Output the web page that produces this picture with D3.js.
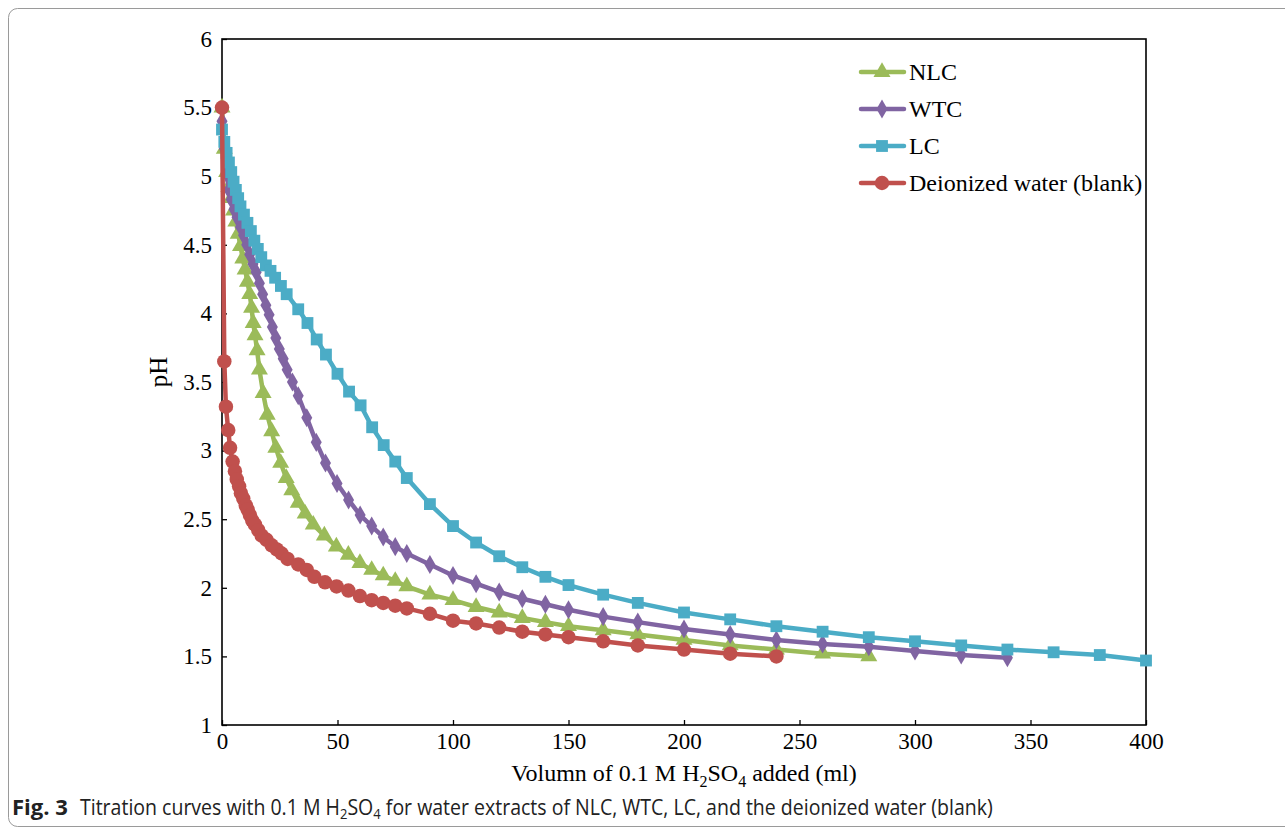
<!DOCTYPE html>
<html>
<head>
<meta charset="utf-8">
<script src="https://cdn.jsdelivr.net/npm/d3@7"></script>
<style>
  html, body { margin: 0; padding: 0; background: #fff; }
  svg { display: block; }
</style>
</head>
<body>
<svg id="chart" width="1285" height="829"></svg>
<script>
// Titration data: volume of 0.1 M H2SO4 added (ml) and pH reading
const nlcVol = [0, 1, 2, 3, 4, 5, 6, 7, 8, 9, 10, 11, 12, 12.8, 13.5, 14.3, 15.2, 16.2, 17.8, 19.6, 21.5, 23.3, 25.4, 27.8, 30.2, 33, 36, 39.5, 44.3, 49.5, 54.7, 59.7, 64.8, 69.8, 75, 80, 90, 100, 110, 120, 130, 140, 150, 165, 180, 200, 220, 240, 260, 280];
const nlcPH  = [5.5, 5.2, 5.03, 4.92, 4.84, 4.75, 4.67, 4.58, 4.49, 4.40, 4.32, 4.23, 4.14, 4.04, 3.93, 3.84, 3.73, 3.59, 3.42, 3.26, 3.14, 3.02, 2.91, 2.80, 2.71, 2.62, 2.54, 2.46, 2.38, 2.30, 2.24, 2.18, 2.13, 2.09, 2.05, 2.01, 1.95, 1.91, 1.86, 1.82, 1.78, 1.75, 1.72, 1.69, 1.66, 1.62, 1.58, 1.55, 1.52, 1.50];

const wtcVol = [0, 1, 2, 3, 4, 5.2, 6.5, 8, 9.3, 10.7, 12, 13.4, 14.8, 16.2, 17.6, 19, 20.4, 21.8, 23.3, 24.8, 26.5, 28.2, 30.5, 33, 36.7, 40.8, 44.8, 49.8, 54.8, 59.8, 64.8, 69.8, 75, 80, 90, 100, 110, 120, 130, 140, 150, 165, 180, 200, 220, 240, 260, 280, 300, 320, 340];
const wtcPH  = [5.40, 5.20, 5.02, 4.90, 4.83, 4.76, 4.70, 4.63, 4.57, 4.50, 4.43, 4.36, 4.30, 4.22, 4.14, 4.06, 3.99, 3.90, 3.82, 3.74, 3.67, 3.59, 3.50, 3.40, 3.24, 3.06, 2.91, 2.76, 2.64, 2.53, 2.45, 2.37, 2.30, 2.25, 2.17, 2.09, 2.03, 1.97, 1.92, 1.88, 1.84, 1.79, 1.75, 1.70, 1.66, 1.62, 1.59, 1.57, 1.54, 1.51, 1.49];

const lcVol = [0, 1, 2, 3, 4, 5, 6, 7, 8, 9.5, 11, 12.5, 14, 15.5, 17, 19, 21, 23, 25.5, 28, 33, 37, 41, 45, 50, 55, 60, 65, 70, 75, 80, 90, 100, 110, 120, 130, 140, 150, 165, 180, 200, 220, 240, 260, 280, 300, 320, 340, 360, 380, 400];
const lcPH  = [5.34, 5.25, 5.17, 5.10, 5.03, 4.96, 4.90, 4.84, 4.78, 4.72, 4.66, 4.60, 4.53, 4.47, 4.41, 4.35, 4.31, 4.26, 4.20, 4.14, 4.03, 3.93, 3.81, 3.70, 3.56, 3.43, 3.33, 3.17, 3.04, 2.92, 2.80, 2.61, 2.45, 2.33, 2.23, 2.15, 2.08, 2.02, 1.95, 1.89, 1.82, 1.77, 1.72, 1.68, 1.64, 1.61, 1.58, 1.55, 1.53, 1.51, 1.47];

const blankVol = [0, 1, 1.7, 2.7, 3.5, 4.6, 5.6, 6.4, 7.4, 8.2, 9.2, 10.3, 11.1, 12.1, 13.1, 14.3, 15.7, 17.2, 19.3, 21.5, 23.7, 25.8, 28.4, 33, 36.7, 40, 44.6, 49.6, 54.7, 59.7, 64.8, 69.8, 75, 80, 90, 100, 110, 120, 130, 140, 150, 165, 180, 200, 220, 240];
const blankPH  = [5.5, 3.65, 3.32, 3.15, 3.02, 2.92, 2.85, 2.79, 2.74, 2.69, 2.65, 2.60, 2.57, 2.53, 2.49, 2.46, 2.42, 2.38, 2.35, 2.31, 2.28, 2.25, 2.21, 2.17, 2.13, 2.08, 2.04, 2.01, 1.98, 1.94, 1.91, 1.89, 1.87, 1.85, 1.81, 1.76, 1.74, 1.71, 1.68, 1.66, 1.64, 1.61, 1.58, 1.55, 1.52, 1.50];

const seriesNames = ["NLC", "WTC", "LC", "Deionized water (blank)"];
const xTicks = [0, 50, 100, 150, 200, 250, 300, 350, 400];
const yTicks = [1, 1.5, 2, 2.5, 3, 3.5, 4, 4.5, 5, 5.5, 6];

const series = [
  { name: seriesNames[0], vol: nlcVol, ph: nlcPH, color: "#9BBB59", symbol: d3.symbolTriangle, size: 125 },
  { name: seriesNames[1], vol: wtcVol, ph: wtcPH, color: "#8064A2", symbol: d3.symbolDiamond, size: 105 },
  { name: seriesNames[2], vol: lcVol, ph: lcPH, color: "#4BACC6", symbol: d3.symbolSquare, size: 140 },
  { name: seriesNames[3], vol: blankVol, ph: blankPH, color: "#C0504D", symbol: d3.symbolCircle, size: 165 }
];

const svg = d3.select("#chart");
const serif = "'Liberation Serif', 'Times New Roman', serif";
const sans = "'Open Sans', 'Noto Sans', sans-serif";

// figure panel outline
svg.append("rect")
  .attr("x", 8.5).attr("y", 8.5)
  .attr("width", 1300).attr("height", 818)
  .attr("rx", 9).attr("ry", 9)
  .attr("fill", "none").attr("stroke", "#9a9a9a").attr("stroke-width", 1);

const plot = { left: 222, right: 1146, top: 39, bottom: 725 };
const x = d3.scaleLinear().domain([0, 400]).range([plot.left, plot.right]);
const y = d3.scaleLinear().domain([1, 6]).range([plot.bottom, plot.top]);

// axes with inward ticks
const xAxis = d3.axisBottom(x).tickValues(xTicks).tickSizeInner(-5).tickSizeOuter(0).tickPadding(8).tickFormat(d3.format("d"));
const yAxis = d3.axisLeft(y).tickValues(yTicks).tickSizeInner(-5).tickSizeOuter(0).tickPadding(10).tickFormat(d => String(d));

const gx = svg.append("g").attr("transform", `translate(0,${plot.bottom})`).call(xAxis);
const gy = svg.append("g").attr("transform", `translate(${plot.left},0)`).call(yAxis);
[gx, gy].forEach(g => {
  g.select(".domain").remove();
  g.selectAll(".tick line").attr("stroke", "#000").attr("stroke-width", 1.3);
  g.selectAll(".tick text").attr("fill", "#000").style("font-family", serif).style("font-size", "23px");
});
gx.selectAll(".tick text").attr("dy", "0.71em");

// plot frame
svg.append("rect")
  .attr("x", plot.left).attr("y", plot.top)
  .attr("width", plot.right - plot.left).attr("height", plot.bottom - plot.top)
  .attr("fill", "none").attr("stroke", "#000").attr("stroke-width", 1.6);

// series lines and markers
const line = d3.line().x(d => x(d[0])).y(d => y(d[1]));
series.forEach(s => {
  const pts = s.vol.map((v, i) => [v, s.ph[i]]);
  const g = svg.append("g");
  g.append("path").datum(pts)
    .attr("d", line)
    .attr("fill", "none").attr("stroke", s.color)
    .attr("stroke-width", 4.5).attr("stroke-linejoin", "round");
  g.selectAll("path.m").data(pts).join("path")
    .attr("class", "m")
    .attr("transform", d => `translate(${x(d[0])},${y(d[1])})`)
    .attr("d", d3.symbol().type(s.symbol).size(s.size))
    .attr("fill", s.color);
});

// legend
const legend = svg.append("g");
series.forEach((s, i) => {
  const ly = 72 + i * 37;
  legend.append("line").attr("x1", 861).attr("x2", 904).attr("y1", ly).attr("y2", ly)
    .attr("stroke", s.color).attr("stroke-width", 4.5).attr("stroke-linecap", "round");
  legend.append("path").attr("transform", `translate(882,${ly})`)
    .attr("d", d3.symbol().type(s.symbol).size(s.size)).attr("fill", s.color);
  legend.append("text").attr("x", 909).attr("y", ly + 8)
    .style("font-family", serif).style("font-size", "24px").attr("fill", "#000")
    .text(s.name);
});

// axis titles
const xt = svg.append("text").attr("x", 684).attr("y", 781).attr("text-anchor", "middle")
  .style("font-family", serif).style("font-size", "24px").attr("fill", "#000");
xt.append("tspan").text("Volumn of 0.1 M H");
xt.append("tspan").attr("dy", 6).style("font-size", "16px").text("2");
xt.append("tspan").attr("dy", -6).text("SO");
xt.append("tspan").attr("dy", 6).style("font-size", "16px").text("4");
xt.append("tspan").attr("dy", -6).text(" added (ml)");

svg.append("text").attr("transform", "translate(167,372) rotate(-90)").attr("text-anchor", "middle")
  .style("font-family", serif).style("font-size", "25px").attr("fill", "#000").text("pH");

// caption: condensed sans text, squeezed horizontally to its column width
function fitWidth(sel, left, width) {
  const w = sel.node().getBBox().width;
  sel.attr("transform", `translate(${left},0) scale(${width / w},1) translate(${-left},0)`);
}
const capLabel = svg.append("text").attr("x", 12).attr("y", 815)
  .style("font-family", sans).style("font-size", "21px").style("font-weight", "bold")
  .attr("fill", "#222").text("Fig. 3");
fitWidth(capLabel, 12, 56);

const cap = svg.append("text").attr("x", 80).attr("y", 815)
  .style("font-family", sans).style("font-size", "21px").attr("fill", "#222");
cap.append("tspan").text("Titration curves with 0.1 M H");
cap.append("tspan").attr("dy", 4).style("font-size", "14px").text("2");
cap.append("tspan").attr("dy", -4).text("SO");
cap.append("tspan").attr("dy", 4).style("font-size", "14px").text("4");
cap.append("tspan").attr("dy", -4).text(" for water extracts of NLC, WTC, LC, and the deionized water (blank)");
fitWidth(cap, 80, 913);
</script>
</body>
</html>
